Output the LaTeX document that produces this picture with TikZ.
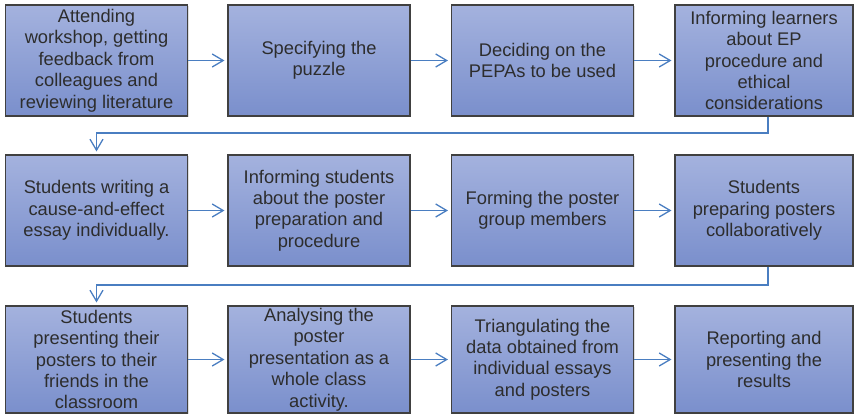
\documentclass[tikz,border=0pt]{standalone}
\usepackage{fontspec}
\setmainfont{Liberation Sans}
\usetikzlibrary{arrows.meta,shadows}
\definecolor{boxtop}{RGB}{164,178,222}
\definecolor{boxbot}{RGB}{122,143,204}
\definecolor{boxline}{RGB}{64,64,64}
\definecolor{txt}{RGB}{45,45,45}
\definecolor{arrowblue}{RGB}{74,126,193}
\tikzset{
  stepbox/.style={draw=boxline, line width=1.1pt, top color=boxtop, bottom color=boxbot,
    minimum width=182pt, inner sep=0pt, align=center, text=txt,
    font=\fontsize{18.3}{21.4}\selectfont,
    drop shadow={opacity=0.25, shadow xshift=1.2pt, shadow yshift=-1.2pt}},
  conn/.style={draw=arrowblue, line width=1.3pt, -{Straight Barb[length=11pt,width=13pt,line width=1.3pt]}}
}
\begin{document}
\begin{tikzpicture}[x=1pt,y=1pt]
\useasboundingbox (0,0) rectangle (856,-416);
% row 1
\node[stepbox, minimum height=111pt] (b1) at (96.5,-60.5) {Attending\\workshop, getting\\feedback from\\colleagues and\\reviewing literature};
\node[stepbox, minimum height=111pt] (b2) at (319,-60.5) {Specifying the\\puzzle};
\node[stepbox, minimum height=111pt] (b3) at (542.5,-60.5) {Deciding on the\\PEPAs to be used};
\node[stepbox, minimum height=111pt, minimum width=178pt] (b4) at (764,-60.5) {Informing learners\\about EP\\procedure and\\ethical\\considerations};
% row 2
\node[stepbox, minimum height=111pt] (b5) at (96.5,-210.5) {Students writing a\\cause-and-effect\\essay individually.};
\node[stepbox, minimum height=111pt] (b6) at (319,-210.5) {Informing students\\about the poster\\preparation and\\procedure};
\node[stepbox, minimum height=111pt] (b7) at (542.5,-210.5) {Forming the poster\\group members};
\node[stepbox, minimum height=111pt, minimum width=178pt] (b8) at (764,-210.5) {Students\\preparing posters\\collaboratively};
% row 3
\node[stepbox, minimum height=107pt] (b9) at (96.5,-359.5) {Students\\presenting their\\posters to their\\friends in the\\classroom};
\node[stepbox, minimum height=107pt] (b10) at (319,-359.5) {Analysing the\\poster\\presentation as a\\whole class\\activity.};
\node[stepbox, minimum height=107pt] (b11) at (542.5,-359.5) {Triangulating the\\data obtained from\\individual essays\\and posters};
\node[stepbox, minimum height=107pt, minimum width=178pt] (b12) at (764,-359.5) {Reporting and\\presenting the\\results};
% horizontal arrows
\foreach \a/\b in {b1/b2,b2/b3,b3/b4,b5/b6,b6/b7,b7/b8,b9/b10,b10/b11,b11/b12}{
  \draw[conn] (\a.east) -- ([xshift=-3pt]\b.west);
}
% elbow connectors
\coordinate (m1) at (768,-133);
\coordinate (m2) at (768,-285);
\draw[conn] ([xshift=4pt]b4.south) -- (m1) -| ([yshift=3pt]b5.north);
\draw[conn] ([xshift=4pt]b8.south) -- (m2) -| ([yshift=3pt]b9.north);
\end{tikzpicture}
\end{document}
